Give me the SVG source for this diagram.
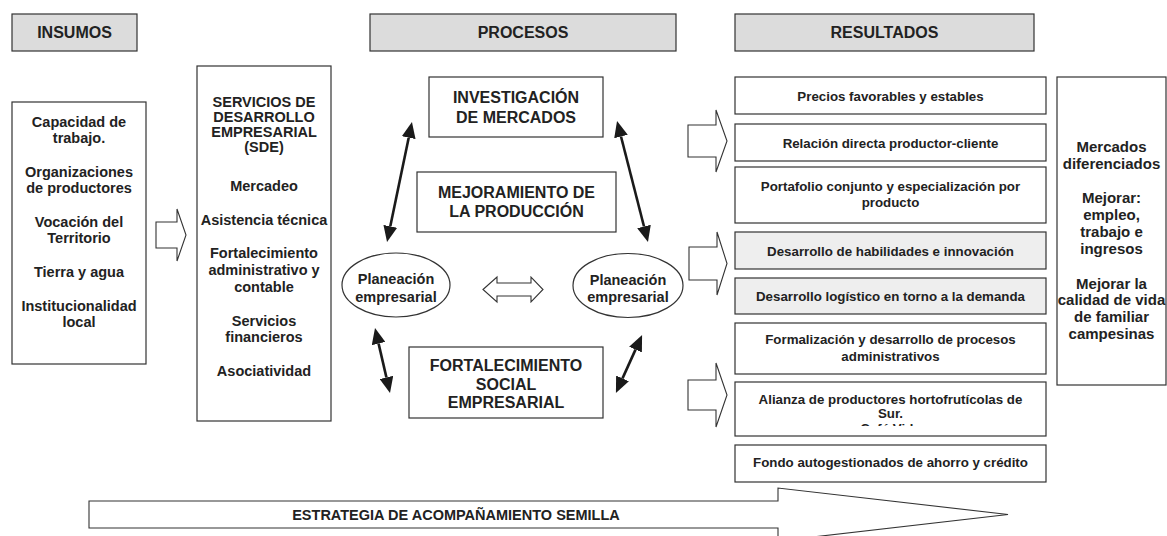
<svg xmlns="http://www.w3.org/2000/svg" width="1167" height="536" viewBox="0 0 1167 536">
<style>
text{font-family:"Liberation Sans",Arial,Helvetica,sans-serif;font-weight:bold;fill:#222;text-anchor:middle}
.box{fill:#fff;stroke:#333;stroke-width:1.2}
.hdr{fill:#dcdcdc;stroke:#333;stroke-width:1.2}
.gray{fill:#eeeeee;stroke:#333;stroke-width:1.2}
.blk{fill:#fff;stroke:#333;stroke-width:1.1;stroke-linejoin:miter}
.t16{font-size:16px}
.t145{font-size:14.5px}
.t15{font-size:15px}
.t13{font-size:13.3px}
.con{stroke:#1a1a1a;stroke-width:2.6;fill:none}
</style>
<defs>
<marker id="ah" markerWidth="16" markerHeight="14" refX="0" refY="7" orient="auto-start-reverse" markerUnits="userSpaceOnUse">
<path d="M0,0 L16,7 L0,14 Z" fill="#1a1a1a"/>
</marker>
<clipPath id="clipAl"><rect x="735" y="382" width="311" height="44"/></clipPath>
</defs>

<g id="hdr-insumos"><rect class="hdr" x="12" y="14" width="125" height="37"/><text class="t16" x="74.5" y="38">INSUMOS</text></g>
<g id="hdr-procesos"><rect class="hdr" x="370" y="14" width="306" height="37"/><text class="t16" x="523" y="38">PROCESOS</text></g>
<g id="hdr-resultados"><rect class="hdr" x="735" y="14" width="299" height="37"/><text class="t16" x="884.5" y="38">RESULTADOS</text></g>

<g id="insumos">
<rect class="box" x="12" y="102" width="134" height="262"/>
<g class="t145">
<text x="79" y="127">Capacidad de</text>
<text x="79" y="143">trabajo.</text>
<text x="79" y="177">Organizaciones</text>
<text x="79" y="193">de productores</text>
<text x="79" y="227">Vocación del</text>
<text x="79" y="243">Territorio</text>
<text x="79" y="277">Tierra y agua</text>
<text x="79" y="311">Institucionalidad</text>
<text x="79" y="327">local</text>
</g>
</g>

<g id="sde">
<rect class="box" x="197" y="66" width="134" height="355"/>
<g class="t145">
<text x="264" y="107">SERVICIOS DE</text>
<text x="264" y="122">DESARROLLO</text>
<text x="264" y="137">EMPRESARIAL</text>
<text x="264" y="152">(SDE)</text>
<text x="264" y="191">Mercadeo</text>
<text x="264" y="225">Asistencia técnica</text>
<text x="264" y="258">Fortalecimiento</text>
<text x="264" y="275">administrativo y</text>
<text x="264" y="292">contable</text>
<text x="264" y="326">Servicios</text>
<text x="264" y="342">financieros</text>
<text x="264" y="376">Asociatividad</text>
</g>
</g>

<g id="investigacion">
<rect class="box" x="429" y="77" width="174" height="60"/>
<text class="t16" x="516" y="103">INVESTIGACIÓN</text>
<text class="t16" x="516" y="123">DE MERCADOS</text>
</g>

<g id="mejoramiento">
<rect class="box" x="417" y="172" width="199" height="60"/>
<text class="t16" x="516.5" y="198">MEJORAMIENTO DE</text>
<text class="t16" x="516.5" y="217">LA PRODUCCIÓN</text>
</g>

<g id="fortalecimiento">
<rect class="box" x="409" y="347" width="194" height="71"/>
<text class="t16" x="506" y="371">FORTALECIMIENTO</text>
<text class="t16" x="506" y="390">SOCIAL</text>
<text class="t16" x="506" y="408">EMPRESARIAL</text>
</g>

<g id="planeacion-izq">
<ellipse class="box" cx="396" cy="285" rx="54" ry="32"/>
<text class="t145" x="396" y="284">Planeación</text>
<text class="t145" x="396" y="302">empresarial</text>
</g>

<g id="planeacion-der">
<ellipse class="box" cx="628" cy="285.5" rx="55" ry="32"/>
<text class="t145" x="628" y="285">Planeación</text>
<text class="t145" x="628" y="302">empresarial</text>
</g>

<g id="res-precios"><rect class="box" x="735" y="77" width="311" height="37"/><text class="t13" x="890.5" y="100.5">Precios favorables y estables</text></g>
<g id="res-relacion"><rect class="box" x="735" y="124" width="311" height="37"/><text class="t13" x="890.5" y="147.5">Relación directa productor-cliente</text></g>
<g id="res-portafolio"><rect class="box" x="735" y="167" width="311" height="56"/><text class="t13" x="890.5" y="190.5">Portafolio conjunto y especialización por</text><text class="t13" x="890.5" y="206.5">producto</text></g>
<g id="res-habilidades"><rect class="gray" x="735" y="232" width="311" height="37"/><text class="t13" x="890.5" y="255.5">Desarrollo de habilidades e innovación</text></g>
<g id="res-logistico"><rect class="gray" x="735" y="278" width="311" height="36"/><text class="t13" x="890.5" y="300.5">Desarrollo logístico en torno a la demanda</text></g>
<g id="res-formalizacion"><rect class="box" x="735" y="323" width="311" height="51"/><text class="t13" x="890.5" y="343.5">Formalización y desarrollo de procesos</text><text class="t13" x="890.5" y="360.5">administrativos</text></g>
<g id="res-alianza"><rect class="box" x="735" y="382" width="311" height="54"/>
<g clip-path="url(#clipAl)"><text class="t13" x="890.5" y="403.5">Alianza de productores hortofrutícolas de</text><text class="t13" x="890.5" y="418">Sur.</text><text class="t13" x="890.5" y="433">Café Vida</text></g></g>
<g id="res-fondo"><rect class="box" x="735" y="445" width="311" height="37"/><text class="t13" x="890.5" y="466.5">Fondo autogestionados de ahorro y crédito</text></g>

<g id="impactos">
<rect class="box" x="1057" y="77" width="109" height="308"/>
<g class="t15">
<text x="1111.5" y="151.5">Mercados</text>
<text x="1111.5" y="168.5">diferenciados</text>
<text x="1111.5" y="202.5">Mejorar:</text>
<text x="1111.5" y="219.5">empleo,</text>
<text x="1111.5" y="237">trabajo e</text>
<text x="1111.5" y="253.5">ingresos</text>
<text x="1111.5" y="288.5">Mejorar la</text>
<text x="1111.5" y="304.5">calidad de vida</text>
<text x="1111.5" y="322">de familiar</text>
<text x="1111.5" y="338.5">campesinas</text>
</g>
</g>

<g id="estrategia">
<polygon class="blk" points="89,501 778,501 778,488 1008,514.5 778,541 778,528 89,528"/>
<text class="t145" x="456" y="520">ESTRATEGIA DE ACOMPAÑAMIENTO SEMILLA</text>
</g>

<g id="connectors">
<polygon class="blk" points="156,222 177,222 177,209 186,235 177,261 177,248 156,248"/>
<polygon class="blk" points="688,125 716,125 716,110 727,141 716,172 716,157 688,157"/>
<polygon class="blk" points="689,247 717,247 717,232 727,263.5 717,295 717,280 689,280"/>
<polygon class="blk" points="688,380 716,380 716,363 727,395 716,427 716,410 688,410"/>
<polygon class="blk" points="483,289.5 497,277 497,283 531,283 531,277 543,289.5 531,302 531,296 497,296 497,302"/>
<line class="con" x1="408.7" y1="137.7" x2="390.3" y2="226.3" marker-start="url(#ah)" marker-end="url(#ah)"/>
<line class="con" x1="621" y1="136.5" x2="644" y2="226.5" marker-start="url(#ah)" marker-end="url(#ah)"/>
<line class="con" x1="378.6" y1="343.6" x2="386.4" y2="377.4" marker-start="url(#ah)" marker-end="url(#ah)"/>
<line class="con" x1="635.5" y1="349.6" x2="622.5" y2="378.4" marker-start="url(#ah)" marker-end="url(#ah)"/>
</g>
</svg>
